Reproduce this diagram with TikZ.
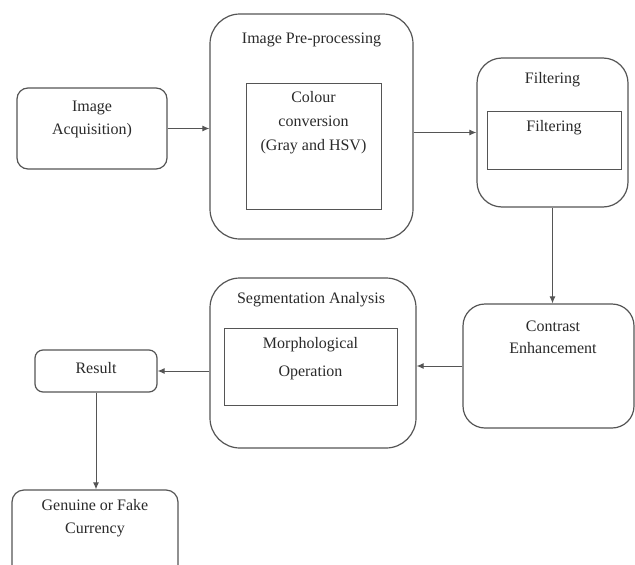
\documentclass[tikz,border=0pt]{standalone}
\usepackage{fontspec}
\setmainfont{Liberation Serif}
\usetikzlibrary{arrows.meta,calc}
\definecolor{ln}{HTML}{555555}
\definecolor{tx}{HTML}{2a2a2a}
\begin{document}
\begin{tikzpicture}[x=1pt,y=-1pt,
  box/.style={draw=ln,line width=1.2pt,rounded corners=#1,inner sep=0pt},
  sq/.style={draw=ln,line width=1pt,inner sep=0pt},
  lbl/.style={text=tx,align=center,inner sep=0pt,font=\fontsize{16}{#1}\selectfont},
  lbl/.default=23,
  arr/.style={draw=ln,line width=1pt,-{Latex[length=7pt,width=6pt]}}]
\clip (0,0) rectangle (635,565);
\fill[white] (0,0) rectangle (635,565);
% boxes
\node[box=11pt,minimum width=150pt,minimum height=81pt] (acq) at (92,128.5) {};
\node[lbl] (acqt) at (92,119) {Image\\Acquisition)};
\node[box=30pt,minimum width=203pt,minimum height=225pt] (pre) at (311.5,126.5) {};
\node[lbl] (pret) at (311.5,40) {Image Pre-processing};
\node[sq,minimum width=135pt,minimum height=126pt] (conv) at (313.5,146) {};
\node[lbl=24] (convt) at (313.5,123) {Colour\\conversion\\(Gray and HSV)};
\node[box=25pt,minimum width=151pt,minimum height=149pt] (filt) at (552.5,132.5) {};
\node[lbl] (filtt) at (552.5,80) {Filtering};
\node[sq,minimum width=134pt,minimum height=58pt] (filtin) at (554,140) {};
\node[lbl] (filtint) at (554,128) {Filtering};
\node[box=22pt,minimum width=171pt,minimum height=124pt] (ce) at (548.5,366) {};
\node[lbl=22] (cet) at (553,337) {Contrast\\Enhancement};
\node[box=30pt,minimum width=206pt,minimum height=170pt] (seg) at (313,363) {};
\node[lbl] (segt) at (311,300) {Segmentation Analysis};
\node[sq,minimum width=173pt,minimum height=77pt] (morph) at (310.5,366.5) {};
\node[lbl=28] (morpht) at (310.5,359) {Morphological\\Operation};
\node[box=8pt,minimum width=122pt,minimum height=42pt] (res) at (96,371) {};
\node[lbl] (rest) at (96,368) {Result};
\node[box=12pt,minimum width=166pt,minimum height=90pt] (gen) at (95,535) {};
\node[lbl] (gent) at (95,518.5) {Genuine or Fake\\Currency};
% connectors
\draw[arr] (acq.east) -- (acq.east -| pre.west);
\draw[arr] (filt.west -| pre.east) -- (filt.west);
\draw[arr] (filt.south) -- (filt.south |- ce.north);
\draw[arr] (ce.west) -- (ce.west -| seg.east);
\draw[arr] (res.east -| seg.west) -- (res.east);
\draw[arr] (res.south) -- (res.south |- gen.north);
\end{tikzpicture}
\end{document}
